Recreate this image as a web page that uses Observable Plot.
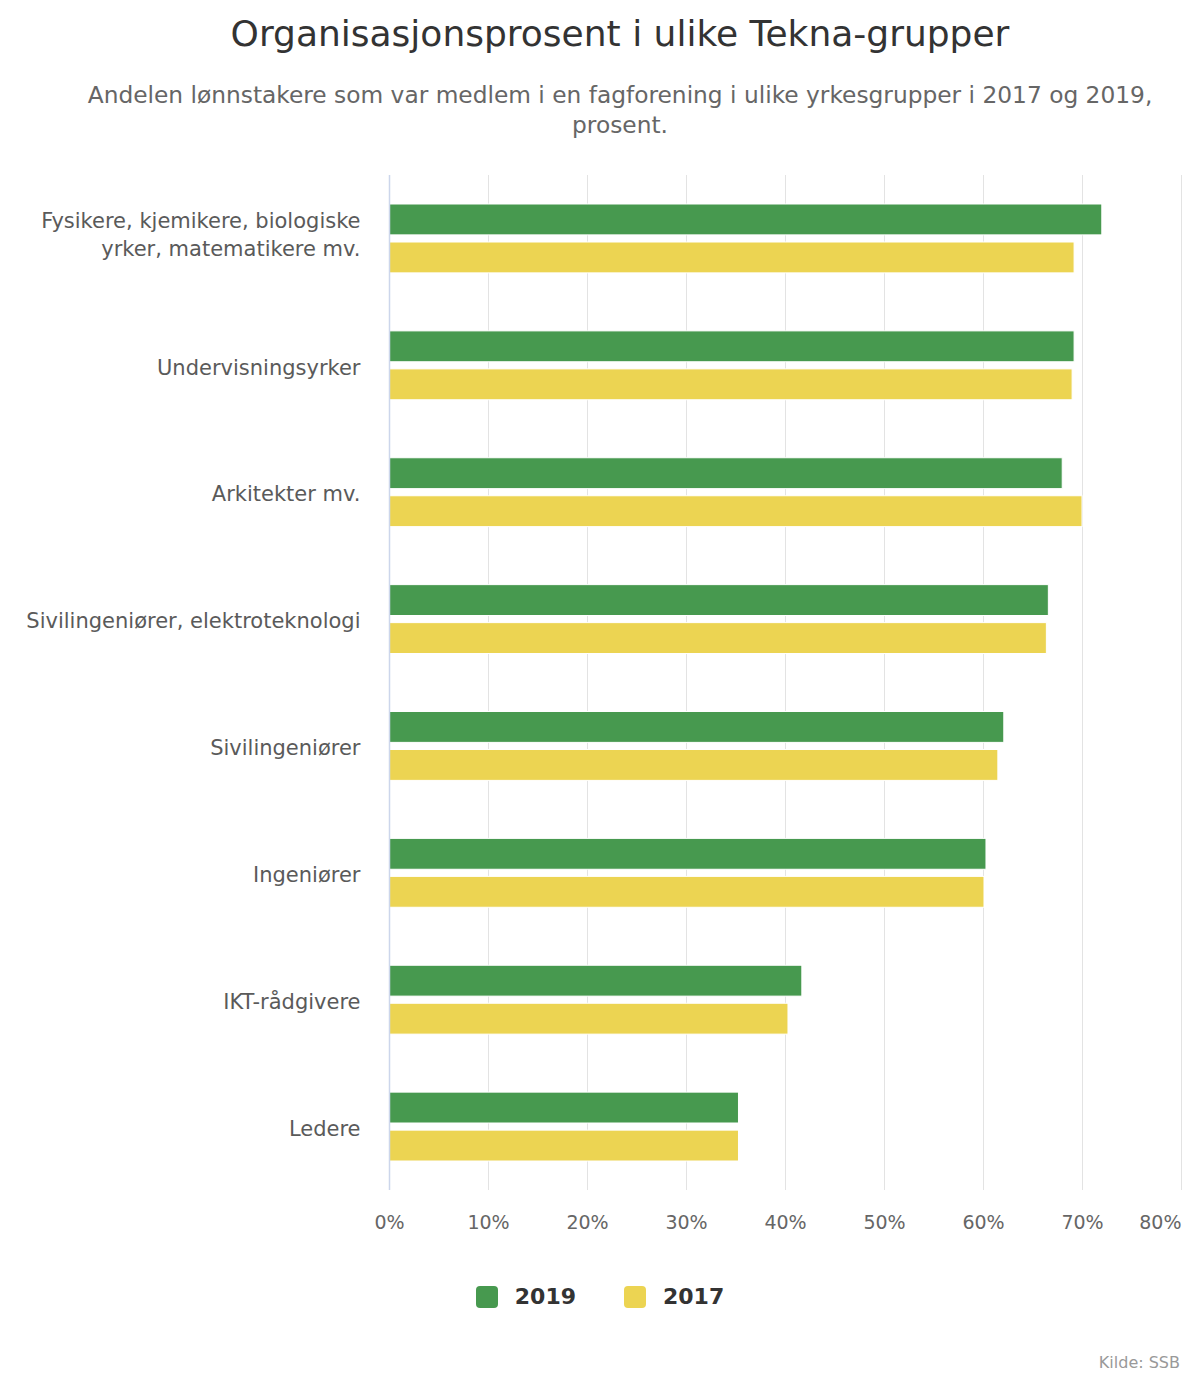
<!DOCTYPE html>
<html>
<head>
<meta charset="utf-8">
<script src="https://cdn.jsdelivr.net/npm/d3@7"></script>
<script src="https://cdn.jsdelivr.net/npm/@observablehq/plot@0.6"></script>
<style>
  body { margin: 0; background: #fff; font-family: "DejaVu Sans", sans-serif; }
  #wrap { position: relative; width: 1200px; height: 1380px; }
  #title { position: absolute; left: 20px; width: 1200px; top: 13px; text-align: center; font-size: 36px; color: #333; }
  #subtitle { position: absolute; left: 65px; width: 1110px; top: 80px; text-align: center; font-size: 23.3px; line-height: 30px; color: #666; }
  #chart { position: absolute; left: 0; top: 160px; }
  #legend { position: absolute; left: 0; width: 1200px; top: 1284px; display: flex; justify-content: center; gap: 48px; font-size: 22px; font-weight: bold; color: #333; }
  #legend span.item { display: flex; align-items: center; gap: 17px; }
  #legend span.sw { display: inline-block; width: 22px; height: 22px; border-radius: 4px; }
  #source { position: absolute; right: 20px; top: 1353px; font-size: 16px; color: #999; }
</style>
</head>
<body>
<div id="wrap">
  <div id="title">Organisasjonsprosent i ulike Tekna-grupper</div>
  <div id="subtitle">Andelen lønnstakere som var medlem i en fagforening i ulike yrkesgrupper i 2017 og 2019, prosent.</div>
  <div id="chart"></div>
  <div id="legend"></div>
  <div id="source">Kilde: SSB</div>
</div>
<script>
const categories = [
  "Fysikere, kjemikere, biologiske\nyrker, matematikere mv.",
  "Undervisningsyrker",
  "Arkitekter mv.",
  "Sivilingeniører, elektroteknologi",
  "Sivilingeniører",
  "Ingeniører",
  "IKT-rådgivere",
  "Ledere"
];
const values2019 = [72.0, 69.2, 68.0, 66.6, 62.1, 60.3, 41.7, 35.3];
const values2017 = [69.2, 69.0, 70.0, 66.4, 61.5, 60.1, 40.3, 35.3];
const years = ["2019", "2017"];
const colors = {"2019": "#47994f", "2017": "#ecd452"};
const xTicks = [0, 10, 20, 30, 40, 50, 60, 70];
const xLastTick = [80];

const d2019 = categories.map((c, i) => ({category: c, value: values2019[i]}));
const d2017 = categories.map((c, i) => ({category: c, value: values2017[i]}));
const multiLine = categories.filter(c => c.includes("\n"));
const singleLine = categories.filter(c => !c.includes("\n"));

const plot = Plot.plot({
  width: 1200,
  height: 1100,
  marginTop: 15,
  marginBottom: 70,
  marginLeft: 389,
  marginRight: 19,
  style: {fontFamily: "DejaVu Sans, sans-serif", fontSize: "19px", color: "#666"},
  x: {domain: [0, 80], axis: null},
  y: {domain: categories, padding: 0, round: false, axis: null},
  marks: [
    Plot.gridX([...xTicks, ...xLastTick], {stroke: "#e3e3e3", strokeOpacity: 1, strokeWidth: 1}),
    Plot.barX(d2019, {x: "value", y: "category", fill: colors["2019"], insetTop: 29, insetBottom: 67, stroke: "white", strokeWidth: 1}),
    Plot.barX(d2017, {x: "value", y: "category", fill: colors["2017"], insetTop: 67, insetBottom: 29, stroke: "white", strokeWidth: 1}),
    Plot.ruleX([0], {stroke: "#ccd6eb", strokeWidth: 1.5}),
    Plot.axisX(xTicks, {tickSize: 0, tickPadding: 25, tickFormat: d => d + "%", fontSize: 19, fill: "#666", label: null}),
    Plot.axisX(xLastTick, {tickSize: 0, tickPadding: 25, tickFormat: d => d + "%", fontSize: 19, fill: "#666", textAnchor: "end", label: null}),
    Plot.text(multiLine, {y: d => d, text: d => d, frameAnchor: "left", textAnchor: "end", dx: -29, dy: -6, lineHeight: 1.35, fontSize: 21, fill: "#5a5a5a"}),
    Plot.text(singleLine, {y: d => d, text: d => d, frameAnchor: "left", textAnchor: "end", dx: -29, dy: 2, fontSize: 21, fill: "#5a5a5a"})
  ]
});
document.getElementById("chart").appendChild(plot);

const legend = document.getElementById("legend");
for (const y of years) {
  const item = document.createElement("span");
  item.className = "item";
  const sw = document.createElement("span");
  sw.className = "sw";
  sw.style.background = colors[y];
  const t = document.createElement("span");
  t.textContent = y;
  item.appendChild(sw);
  item.appendChild(t);
  legend.appendChild(item);
}
</script>
</body>
</html>
